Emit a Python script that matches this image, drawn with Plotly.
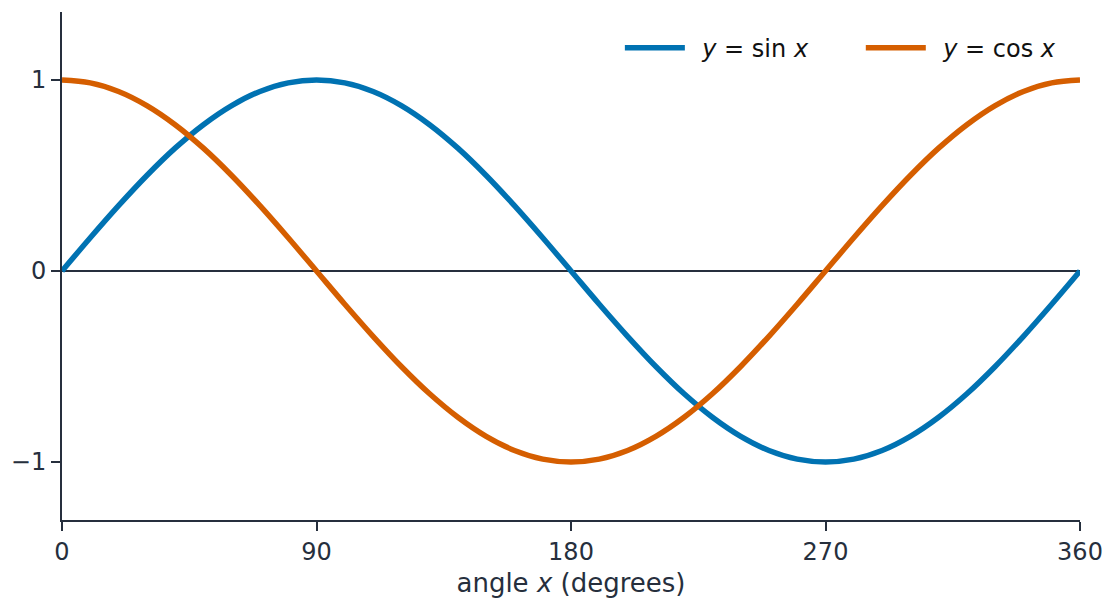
import plotly.graph_objects as go

angle_deg = [0, 10, 20, 30, 40, 50, 60, 70, 80, 90, 100, 110, 120, 130, 140, 150, 160, 170, 180,
             190, 200, 210, 220, 230, 240, 250, 260, 270, 280, 290, 300, 310, 320, 330, 340, 350, 360]
sin_vals = [0.0, 0.174, 0.342, 0.5, 0.643, 0.766, 0.866, 0.94, 0.985, 1.0, 0.985, 0.94, 0.866, 0.766,
            0.643, 0.5, 0.342, 0.174, 0.0, -0.174, -0.342, -0.5, -0.643, -0.766, -0.866, -0.94, -0.985,
            -1.0, -0.985, -0.94, -0.866, -0.766, -0.643, -0.5, -0.342, -0.174, 0.0]
cos_vals = [1.0, 0.985, 0.94, 0.866, 0.766, 0.643, 0.5, 0.342, 0.174, 0.0, -0.174, -0.342, -0.5, -0.643,
            -0.766, -0.866, -0.94, -0.985, -1.0, -0.985, -0.94, -0.866, -0.766, -0.643, -0.5, -0.342,
            -0.174, 0.0, 0.174, 0.342, 0.5, 0.643, 0.766, 0.866, 0.94, 0.985, 1.0]
x_ticks = [0, 90, 180, 270, 360]
y_ticks = [-1, 0, 1]
y_tick_labels = ["\u22121", "0", "1"]

ink = "#262f3d"
font = "DejaVu Sans"
pad = "\u00a0\u2009"

fig = go.Figure()
fig.add_trace(go.Scatter(x=angle_deg, y=sin_vals, mode="lines", line_shape="spline",
                         name=pad + "<i>y</i> = sin <i>x</i>" + "\u00a0" * 5 + "\u2009\u200a\u200a",
                         line=dict(color="#0072B2", width=5.5)))
fig.add_trace(go.Scatter(x=angle_deg, y=cos_vals, mode="lines", line_shape="spline",
                         name=pad + "<i>y</i> = cos <i>x</i>",
                         line=dict(color="#D55E00", width=5.5)))

fig.update_layout(
    width=1106, height=599,
    margin=dict(l=62, r=26, t=12, b=79),
    paper_bgcolor="white", plot_bgcolor="white",
    font=dict(family=font, size=24, color=ink),
    showlegend=True,
    legend=dict(orientation="h", x=0.548, xanchor="left", y=0.973, yanchor="top",
                bgcolor="rgba(0,0,0,0)", font=dict(size=24, color="#111111"),
                itemwidth=60, traceorder="normal"),
    xaxis=dict(range=[0, 360], tickvals=x_ticks, showgrid=False, zeroline=False, automargin=False,
               showline=True, linecolor=ink, linewidth=2, ticks="outside", ticklen=9,
               tickwidth=2, tickcolor=ink, tickfont=dict(size=24, color=ink),
               title=dict(text="angle <i>x</i> (degrees)", font=dict(size=26, color=ink), standoff=9)),
    yaxis=dict(range=[-1.304, 1.356], tickvals=y_ticks, ticktext=y_tick_labels, showgrid=False,
               zeroline=True, zerolinecolor=ink, zerolinewidth=2, automargin=False,
               showline=True, linecolor=ink, linewidth=2, ticks="outside", ticklen=9,
               tickwidth=2, tickcolor=ink, tickfont=dict(size=24, color=ink)),
)

fig.write_html("out.html", config={"displayModeBar": False},
               post_script="document.body.style.margin='0';document.body.style.overflow='hidden';")
